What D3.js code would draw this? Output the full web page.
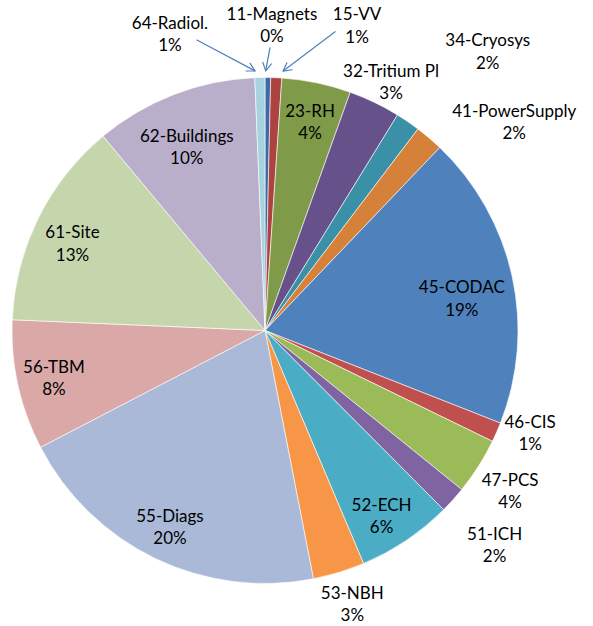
<!DOCTYPE html>
<html>
<head>
<meta charset="utf-8">
<script src="https://cdn.jsdelivr.net/npm/d3@7"></script>
<style>
  html, body { margin: 0; padding: 0; background: #fff; }
  svg { display: block; }
  text { font-family: Lato, "Open Sans", sans-serif; font-size: 17px; fill: #000; }
</style>
</head>
<body>
<svg id="chart" width="593" height="626"></svg>
<script>
// Cost breakdown by system (share of total), clockwise from 12 o'clock
const categories = [
  "11-Magnets", "15-VV", "23-RH", "32-Tritium Pl", "34-Cryosys", "41-PowerSupply",
  "45-CODAC", "46-CIS", "47-PCS", "51-ICH", "52-ECH", "53-NBH",
  "55-Diags", "56-TBM", "61-Site", "62-Buildings", "64-Radiol."
];
const shares = [
  0.36, 0.70, 4.40, 3.30, 1.56, 1.80,
  18.80, 1.25, 3.60, 1.70, 6.10, 3.30,
  20.40, 8.30, 13.25, 10.40, 0.64
];

// Slice fills
const fills = [
  "#3e6aa8", "#ac4340", "#7f9a48", "#67518a", "#3a90a6", "#d5813a",
  "#4f81bd", "#c0504d", "#9bbb59", "#8064a2", "#4bacc6", "#f79646",
  "#a9b9d7", "#d9a8a7", "#c6d6ac", "#b9afcb", "#a7d3df"
];

// Label anchor in polar form: angle (degrees clockwise from top) and radius as a fraction of the pie radius
const labelAngle = [
  1.3, 16.8, 12.2, 26.9, 38.6, 50.1,
  80.8, 111.2, 123.3, 133.1, 147.9, 162.3,
  205.8, 257.3, 294.3, 336.9, 342.2
];
const labelRadius = [
  1.206, 1.259, 0.843, 1.101, 1.411, 1.284,
  0.788, 1.124, 1.159, 1.243, 0.867, 1.135,
  0.863, 0.855, 0.835, 0.788, 1.229
];

// Leader arrows for the thinnest slices: [slice name, start angle, start radius, tip angle, tip radius]
const leaders = [
  ["64-Radiol.", 346.8, 1.179, 357.8, 1.027],
  ["11-Magnets", 1.0, 1.117, 0.15, 1.026],
  ["15-VV", 13.2, 1.213, 4.0, 1.028]
];

const width = 593, height = 626;
const cx = 265, cy = 330.5, radius = 253;

const svg = d3.select("#chart");
const g = svg.append("g").attr("transform", `translate(${cx},${cy})`);

const data = categories.map((name, i) => ({
  name, value: shares[i], fill: fills[i],
  la: labelAngle[i], lr: labelRadius[i]
}));
const total = d3.sum(shares);

const pie = d3.pie().sort(null).value(d => d.value).startAngle(0).endAngle(2 * Math.PI);
const arc = d3.arc().innerRadius(0).outerRadius(radius);
const arcs = pie(data);

g.selectAll("path.slice")
  .data(arcs)
  .join("path")
  .attr("class", "slice")
  .attr("d", arc)
  .attr("fill", d => d.data.fill)
  .attr("stroke", "#ffffff")
  .attr("stroke-width", 0.6)
  .attr("stroke-linejoin", "round");

const polar = (deg, frac) => {
  const a = deg * Math.PI / 180;
  return [frac * radius * Math.sin(a), -frac * radius * Math.cos(a)];
};

const pct = d3.format(".0%");

// Two-line labels: name above, rounded share below
const labels = g.selectAll("text.lbl")
  .data(arcs)
  .join("text")
  .attr("class", "lbl")
  .attr("text-anchor", "middle")
  .attr("transform", d => {
    const [x, y] = polar(d.data.la, d.data.lr);
    return `translate(${x},${y})`;
  });
labels.append("tspan").attr("x", 0).attr("y", -5.5).text(d => d.data.name);
labels.append("tspan").attr("x", 0).attr("y", 17).text(d => pct(d.data.value / total));

// Leader arrows
const arrowColor = "#4f81bd";
const lg = g.append("g").attr("fill", "none").attr("stroke", arrowColor)
  .attr("stroke-width", 1.2).attr("stroke-linecap", "round").attr("stroke-linejoin", "round");
leaders.forEach(([name, sa, sr, ta, tr]) => {
  const [x1, y1] = polar(sa, sr);
  const [x2, y2] = polar(ta, tr);
  lg.append("line").attr("x1", x1).attr("y1", y1).attr("x2", x2).attr("y2", y2);
  const ang = Math.atan2(y2 - y1, x2 - x1);
  const len = 9, spread = 0.5;
  const p1 = [x2 - len * Math.cos(ang - spread), y2 - len * Math.sin(ang - spread)];
  const p2 = [x2 - len * Math.cos(ang + spread), y2 - len * Math.sin(ang + spread)];
  lg.append("path").attr("d", `M${p1[0]},${p1[1]}L${x2},${y2}L${p2[0]},${p2[1]}`);
});
</script>
</body>
</html>
